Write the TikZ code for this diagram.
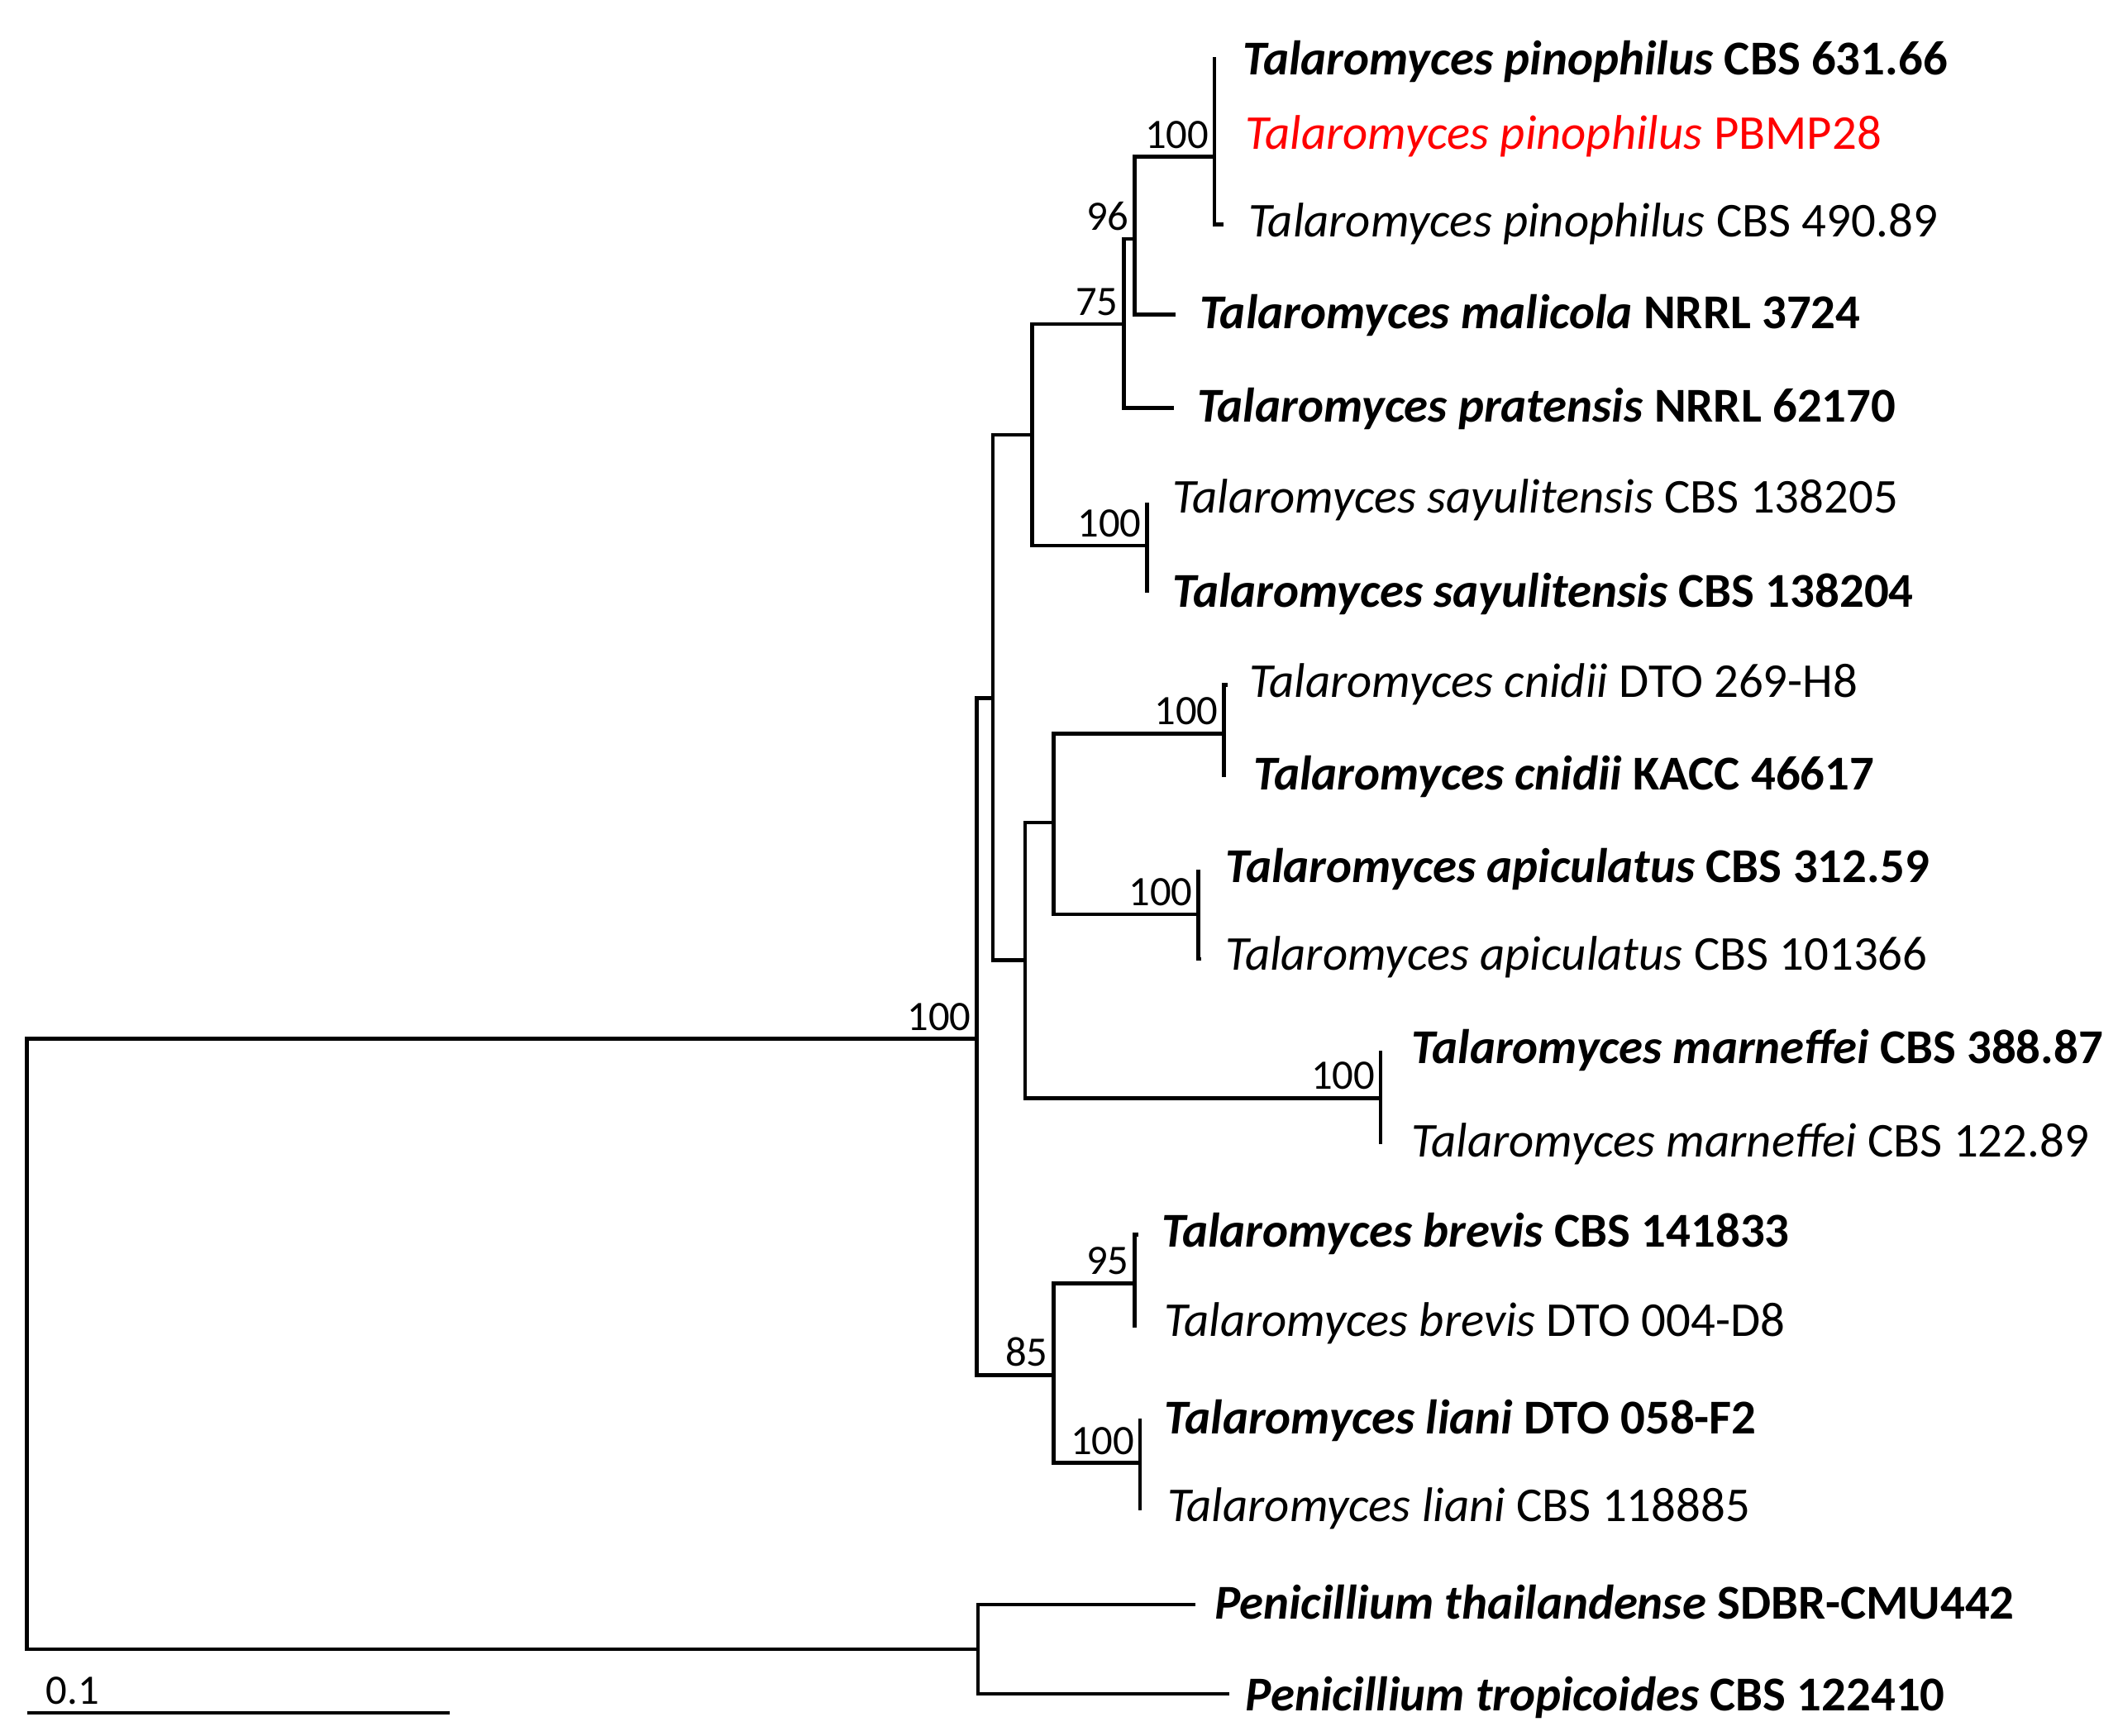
\documentclass[tikz,border=0pt]{standalone}
\usepackage{fontspec}
\setmainfont{Carlito}
\usetikzlibrary{positioning}

\newcommand{\boldtaxon}[2]{\textbf{\textit{#1} #2}}
\newcommand{\plaintaxon}[2]{\textit{#1} #2}

\tikzset{
  branch/.style={line width=2.8pt},
  leaf/.style={anchor=west, inner sep=0pt, text height=23pt, text depth=0pt,
    font=\fontsize{36}{40}\selectfont},
  boot/.style={anchor=south east, inner xsep=4pt, inner ysep=6pt,
    font=\fontsize{31}{34}\selectfont}
}

\begin{document}
\begin{tikzpicture}[x=1pt, y=-1pt]
  \useasboundingbox (0,0) rectangle (1568,1285);

  % internal nodes
  \coordinate (R) at (20,995);
  \coordinate (A) at (723,769);
  \coordinate (B) at (735,517);
  \coordinate (C) at (764,322);
  \coordinate (F) at (832,240);
  \coordinate (G) at (840,177);
  \coordinate (H) at (899,116);
  \coordinate (Say) at (849,404);
  \coordinate (D) at (759,711);
  \coordinate (E) at (780,609);
  \coordinate (Cn) at (906,543);
  \coordinate (Ap) at (887,677);
  \coordinate (Mar) at (1022,813);
  \coordinate (N85) at (780,1018);
  \coordinate (Br) at (840,950);
  \coordinate (Li) at (844,1083);
  \coordinate (O) at (724,1221);

  % tips
  \coordinate (k1) at (899,42);
  \coordinate (k2) at (899,99);
  \coordinate (k3) at (906,166);
  \coordinate (k4) at (870,233);
  \coordinate (k5) at (869,302);
  \coordinate (k6) at (849,372);
  \coordinate (k7) at (849,439);
  \coordinate (k8) at (909,507);
  \coordinate (k9) at (906,575);
  \coordinate (k10) at (887,644);
  \coordinate (k11) at (889,710);
  \coordinate (k12) at (1022,778);
  \coordinate (k13) at (1022,847);
  \coordinate (k14) at (843,914);
  \coordinate (k15) at (840,983);
  \coordinate (k16) at (844,1050);
  \coordinate (k17) at (844,1118);
  \coordinate (k18) at (885,1188);
  \coordinate (k19) at (910,1254);

  % branches
  \foreach \p/\c in {R/A, R/O, A/B, A/N85, B/C, B/D, C/F, C/Say, F/G, F/k5,
      G/H, G/k4, H/k1, H/k2, H/k3, Say/k6, Say/k7, D/E, D/Mar, E/Cn, E/Ap,
      Cn/k8, Cn/k9, Ap/k10, Ap/k11, Mar/k12, Mar/k13, N85/Br, N85/Li,
      Br/k14, Br/k15, Li/k16, Li/k17, O/k18, O/k19}
    \draw[branch] (\p) |- (\c);

  % bootstrap values
  \foreach \nd/\v in {A/100, H/100, G/96, F/75, Say/100, Cn/100, Ap/100,
      Mar/100, N85/85, Br/95, Li/100}
    \node[boot] (bs\nd) at (\nd) {\v};

  % strain labels
  \node[leaf] (l1) at (920,44) {\boldtaxon{Talaromyces pinophilus}{CBS 631.66}};
  \node[leaf, text=red] (l2) at (922,99) {\plaintaxon{Talaromyces pinophilus}{PBMP28}};
  \node[leaf] (l3) at (924,164) {\plaintaxon{Talaromyces pinophilus}{CBS 490.89}};
  \node[leaf] (l4) at (888,232) {\boldtaxon{Talaromyces malicola}{NRRL 3724}};
  \node[leaf] (l5) at (886,301) {\boldtaxon{Talaromyces pratensis}{NRRL 62170}};
  \node[leaf] (l6) at (868,368) {\plaintaxon{Talaromyces sayulitensis}{CBS 138205}};
  \node[leaf] (l7) at (868,438) {\boldtaxon{Talaromyces sayulitensis}{CBS 138204}};
  \node[leaf] (l8) at (925,505) {\plaintaxon{Talaromyces cnidii}{DTO 269-H8}};
  \node[leaf] (l9) at (928,573) {\boldtaxon{Talaromyces cnidii}{KACC 46617}};
  \node[leaf] (l10) at (907,642) {\boldtaxon{Talaromyces apiculatus}{CBS 312.59}};
  \node[leaf] (l11) at (907,707) {\plaintaxon{Talaromyces apiculatus}{CBS 101366}};
  \node[leaf] (l12) at (1045,776) {\boldtaxon{Talaromyces marneffei}{CBS 388.87}};
  \node[leaf] (l13) at (1045,845) {\plaintaxon{Talaromyces marneffei}{CBS 122.89}};
  \node[leaf] (l14) at (860,912) {\boldtaxon{Talaromyces brevis}{CBS 141833}};
  \node[leaf] (l15) at (862,978) {\plaintaxon{Talaromyces brevis}{DTO 004-D8}};
  \node[leaf] (l16) at (862,1050) {\boldtaxon{Talaromyces liani}{DTO 058-F2}};
  \node[leaf] (l17) at (864,1115) {\plaintaxon{Talaromyces liani}{CBS 118885}};
  \node[leaf] (l18) at (899,1187) {\boldtaxon{Penicillium thailandense}{SDBR-CMU442}};
  \node[leaf] (l19) at (922,1255) {\boldtaxon{Penicillium tropicoides}{CBS 122410}};

  % scale bar
  \coordinate (s0) at (20,1268);
  \coordinate (s1) at (333,1268);
  \draw[branch] (s0) -- (s1);
  \node[boot, anchor=south west] (sbl) at ([xshift=10pt]s0) {0.1};
\end{tikzpicture}
\end{document}
